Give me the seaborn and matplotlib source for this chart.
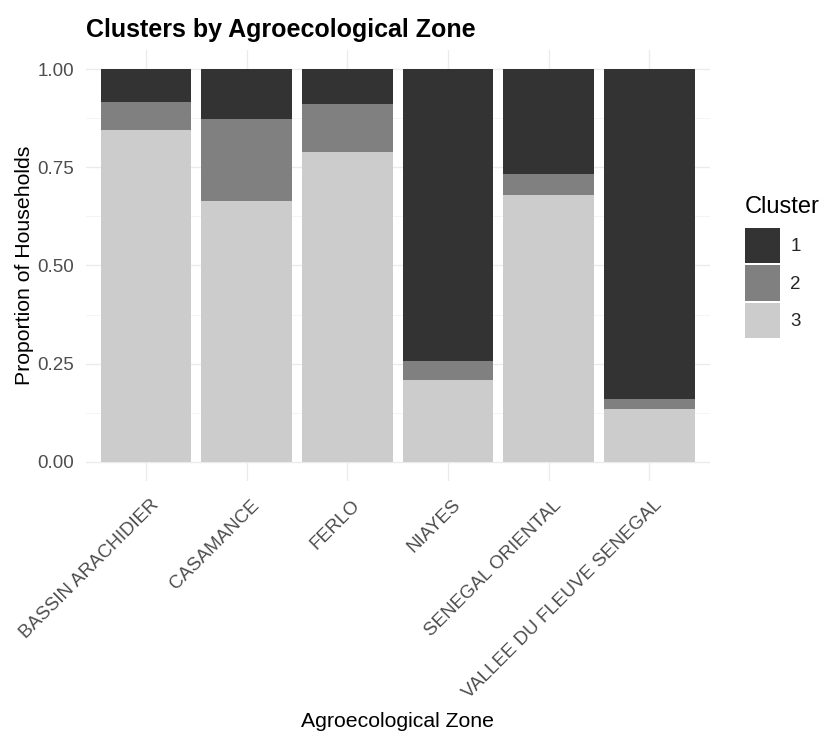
import numpy as np
import pandas as pd
import matplotlib
matplotlib.use("Agg")
import matplotlib.pyplot as plt
import matplotlib.transforms as mtransforms
from matplotlib.patches import Patch
import seaborn as sns

# %%
zones = ["BASSIN ARACHIDIER", "CASAMANCE", "FERLO", "NIAYES",
         "SENEGAL ORIENTAL", "VALLEE DU FLEUVE SENEGAL"]
clusters = ["1", "2", "3"]
# proportions of households per cluster
prop_c3 = [0.845, 0.664, 0.789, 0.208, 0.679, 0.135]
prop_c2 = [0.072, 0.210, 0.123, 0.049, 0.055, 0.025]
prop_c1 = [1 - a - b for a, b in zip(prop_c3, prop_c2)]
colors = {"1": "#333333", "2": "#808080", "3": "#CCCCCC"}

# %%
df = pd.DataFrame({"zone": zones, "c1": prop_c1, "c2": prop_c2, "c3": prop_c3})
df["top3"] = df["c3"]
df["top2"] = df["c3"] + df["c2"]
df["top1"] = df["c3"] + df["c2"] + df["c1"]

sns.set_theme(style="whitegrid")
plt.rcParams["font.family"] = ["Liberation Sans", "DejaVu Sans"]

fig = plt.figure(figsize=(8.22, 7.33), dpi=100)
ax = fig.add_axes([0.1041, 0.3434, 0.7592, 0.5888])

for col, cl in [("top1", "1"), ("top2", "2"), ("top3", "3")]:
    sns.barplot(data=df, x="zone", y=col, color=colors[cl], width=0.9,
                saturation=1, linewidth=0, ax=ax)

ax.set_xlim(-0.6, 5.6)
ax.set_ylim(-0.05, 1.05)
ax.set_yticks([0, 0.25, 0.5, 0.75, 1.0])
ax.set_yticklabels(["0.00", "0.25", "0.50", "0.75", "1.00"])
ax.set_yticks([0.125, 0.375, 0.625, 0.875], minor=True)
ax.grid(True, which="major", color="#EBEBEB", linewidth=1.0)
ax.grid(True, which="minor", axis="y", color="#F2F2F2", linewidth=0.6)
ax.set_axisbelow(True)
for s in ax.spines.values():
    s.set_visible(False)
ax.set_facecolor("white")
ax.tick_params(axis="both", which="both", length=0, labelsize=13.5, labelcolor="#4D4D4D")
ax.tick_params(axis="y", pad=8)
ax.tick_params(axis="x", pad=11)
shift = mtransforms.ScaledTranslation(4 / 100, 0, fig.dpi_scale_trans)
for lab in ax.get_xticklabels():
    lab.set_rotation(45)
    lab.set_ha("right")
    lab.set_rotation_mode("anchor")
    lab.set_transform(lab.get_transform() + shift)

ax.set_xlabel("Agroecological Zone", fontsize=15.3, color="black", labelpad=7)
ax.set_ylabel("Proportion of Households", fontsize=15.3, color="black", labelpad=3)
ax.set_title("Clusters by Agroecological Zone", loc="left", fontsize=18,
             fontweight="bold", color="black", pad=9)

# legend: title as its own text so the gap to the keys can be set
fig.text(745 / 822, 1 - 207 / 733, "Cluster", fontsize=17, color="black",
         ha="left", va="center")
handles = [Patch(facecolor=colors[c], edgecolor="none", label=c) for c in clusters]
leg = fig.legend(handles=handles, loc="upper left",
                 bbox_to_anchor=(745 / 822, 1 - 228 / 733), frameon=False,
                 fontsize=13.5, handlelength=1.87, handleheight=2.5,
                 labelspacing=0.13, handletextpad=0.55,
                 borderaxespad=0, borderpad=0)

fig.savefig("out.png", dpi=100, facecolor="white")
